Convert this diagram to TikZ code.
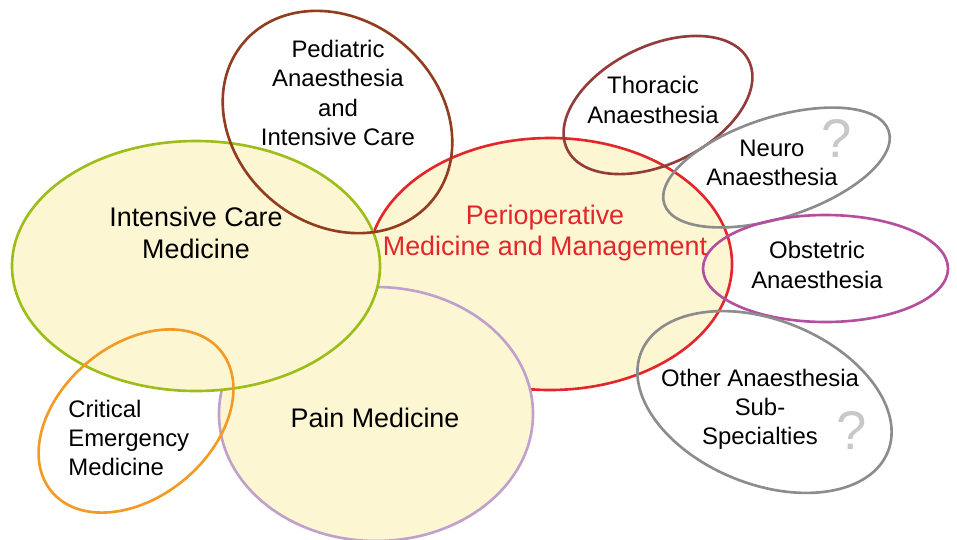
\documentclass[tikz,border=0pt]{standalone}
\usepackage{fontspec}
\setmainfont{Liberation Sans}
\definecolor{fillY}{RGB}{252,247,210}
\definecolor{cGreen}{RGB}{157,190,26}
\definecolor{cRed}{RGB}{227,38,42}
\definecolor{cLav}{RGB}{191,161,204}
\definecolor{cBrown}{RGB}{146,61,31}
\definecolor{cThor}{RGB}{148,59,59}
\definecolor{cOrange}{RGB}{242,154,35}
\definecolor{cGray}{RGB}{140,140,140}
\definecolor{cMag}{RGB}{180,78,158}
\definecolor{cQ}{RGB}{200,200,200}
\begin{document}
\begin{tikzpicture}[x=0.02cm,y=0.02cm,
  ring/.style={line width=1.5pt},
  small/.style={align=center,inner sep=0pt,font=\fontsize{13.6pt}{16.6pt}\selectfont},
  big/.style={align=center,inner sep=0pt,font=\fontsize{15.3pt}{17.9pt}\selectfont},
  qmark/.style={inner sep=0pt,text=cQ,font=\fontsize{31pt}{31pt}\selectfont}]
\useasboundingbox (0,0) rectangle (957,-539);
% filled ellipses
\draw[ring,cRed,fill=fillY] (550,-264) ellipse [x radius=182,y radius=126];
\draw[ring,cLav,fill=fillY] (376,-414) ellipse [x radius=157,y radius=127];
\draw[ring,cGreen,fill=fillY] (196,-266) ellipse [x radius=184,y radius=125];
% open ellipses
\draw[ring,cBrown,rotate around={-40:(337.5,-122)}] (337.5,-122) ellipse [x radius=123,y radius=102];
\draw[ring,cOrange,rotate around={40:(136,-421)}] (136,-421) ellipse [x radius=110,y radius=76];
\draw[ring,cThor,rotate around={26:(658,-105)}] (658,-105) ellipse [x radius=101,y radius=59];
\draw[ring,cGray,rotate around={18:(776.5,-167.5)}] (776.5,-167.5) ellipse [x radius=118,y radius=50];
\draw[ring,cMag] (825.5,-268.5) ellipse [x radius=122.5,y radius=53.5];
\draw[ring,cGray,rotate around={-22:(764.5,-402)}] (764.5,-402) ellipse [x radius=133,y radius=82];
% texts
\node[small] (ped) at (338,-93) {Pediatric\\Anaesthesia\\and\\Intensive Care};
\node[big] (icm) at (196,-233) {Intensive Care\\Medicine};
\node[big,text=cRed] (peri) at (545,-233) {Perioperative\\Medicine and Management};
\node[big] (pain) at (375,-418) {Pain Medicine};
\node[small,align=left,anchor=west] (crit) at (68,-438) {Critical\\Emergency\\Medicine};
\node[small] (thor) at (653,-100) {Thoracic\\Anaesthesia};
\node[small] (neuro) at (772,-163) {Neuro\\Anaesthesia};
\node[qmark] (q1) at (837,-138) {?};
\node[small] (obst) at (817,-265) {Obstetric\\Anaesthesia};
\node[small] (other) at (760,-409) {Other Anaesthesia\\Sub-\\Specialties};
\node[qmark] (q2) at (852,-430) {?};
\end{tikzpicture}
\end{document}
